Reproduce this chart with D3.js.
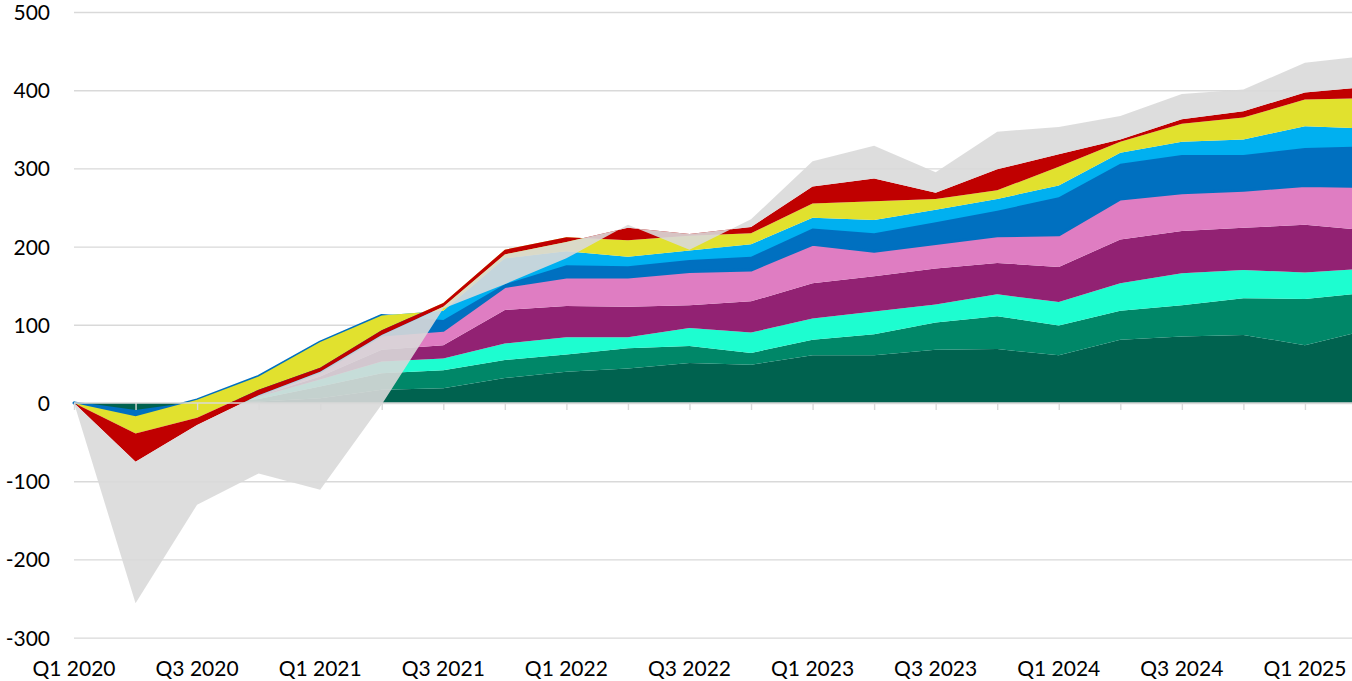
<!DOCTYPE html>
<html>
<head>
<meta charset="utf-8">
<script src="https://cdnjs.cloudflare.com/ajax/libs/d3/7.8.5/d3.min.js"></script>
<style>
  html, body { margin: 0; padding: 0; background: #fff; overflow: hidden; }
  svg { display: block; font-family: Lato, "Liberation Sans", sans-serif; }
</style>
</head>
<body>
<svg width="1352" height="681"></svg>
<script>
// quarters on the category axis (last one runs off the right edge)
const quarters = ["Q1 2020","Q2 2020","Q3 2020","Q4 2020","Q1 2021","Q2 2021","Q3 2021","Q4 2021",
  "Q1 2022","Q2 2022","Q3 2022","Q4 2022","Q1 2023","Q2 2023","Q3 2023","Q4 2023",
  "Q1 2024","Q2 2024","Q3 2024","Q4 2024","Q1 2025","Q2 2025"];
const xLabels = ["Q1 2020","Q3 2020","Q1 2021","Q3 2021","Q1 2022","Q3 2022",
  "Q1 2023","Q3 2023","Q1 2024","Q3 2024","Q1 2025"];
const yTicks = [-300, -200, -100, 0, 100, 200, 300, 400, 500];

// series values, stacked in this order (excel style: plain running sum)
const darkGreen = [0,-11,0,2,6,17,19,32,40,44,51,49,61,61,68,69,61,81,85,87,74,93];
const green     = [0,0,0,3,15,21,23,23,22,26,22,15,20,27,35,42,38,37,40,47,59,48];
const aqua      = [0,0,0,3,9,15,15,21,22,14,23,26,27,29,23,28,30,35,41,36,34,31];
const purple    = [0,0,0,1,4,15,17,43,40,39,29,40,45,45,46,40,45,56,54,54,61,49];
const pink      = [0,0,0,1,6,19,19,30,37,38,43,40,50,32,32,35,41,52,49,48,50,56];
const blue      = [0,-6,4,24,38,25,13,3,15,14,15,17,20,23,27,32,48,45,48,45,48,51];
const lightBlue = [0,0,0,0,0,0,12,33,18,12,12,16,14,17,16,15,15,14,17,20,28,23];
const yellow    = [0,-22,-23,-17,-33,-19,10,11,18,21,19,14,18,24,14,11,24,14,23,28,34,39];
const red       = [0,-36,-9,-7,-5,-6,-5,-6,-6,16,2,8,22,29,8,27,16,3,6,8,9,14];
const grey      = [0,-181,-102,-100,-151,-89,-2,-38,-21,4,-20,10,32,42,26,48,35,30,32,28,38,40];

const keys = ["darkGreen","green","aqua","purple","pink","blue","lightBlue","yellow","red","grey"];
const colors = ["#00624f","#008768","#1dfdd0","#922273","#df7dc2","#0070c0","#00b0f0","#e1e12e","#c00000","#d9d9d9"];
const values = {darkGreen, green, aqua, purple, pink, blue, lightBlue, yellow, red, grey};

const rows = quarters.map((q, i) => {
  const r = {q: q};
  keys.forEach(k => r[k] = values[k][i]);
  return r;
});

const svg = d3.select("svg");
const left = 74, right = 1352;

const x = d3.scalePoint().domain(quarters).range([74, 1366.5]);
const y = d3.scaleLinear().domain([-300, 500]).range([637.6, 12]);

// gridlines + y labels (plain hyphen for negatives, like the original)
const yAxis = d3.axisLeft(y).tickValues(yTicks).tickSize(-(right - left)).tickPadding(24)
  .tickFormat(d => String(d));
const gy = svg.append("g").attr("transform", `translate(${left},0)`).call(yAxis);
gy.select(".domain").remove();
gy.selectAll(".tick line").attr("stroke", "#d9d9d9").attr("stroke-width", 1.4);
gy.selectAll(".tick text").attr("font-size", 21).attr("fill", "#000").attr("dy", "0.36em")
  .style("font-family", "Lato, 'Liberation Sans', sans-serif");

// stacked areas
const stack = d3.stack().keys(keys).offset(d3.stackOffsetNone);
const series = stack(rows);

const area = d3.area()
  .x(d => x(d.data.q))
  .y0(d => y(d[0]))
  .y1(d => y(d[1]));

svg.append("g").selectAll("path")
  .data(series)
  .join("path")
  .attr("d", area)
  .attr("fill", (d, i) => colors[i])
  .attr("fill-opacity", d => d.key === "grey" ? 0.9 : 1)
  .attr("stroke", d => d.key === "blue" ? colors[5] : "none")
  .attr("stroke-width", 3)
  .attr("stroke-linejoin", "round");

// zero axis with ticks at each quarter
const xAxis = d3.axisBottom(x).tickValues(quarters).tickSize(7).tickFormat("");
const gx = svg.append("g").attr("transform", `translate(0,${y(0)})`).call(xAxis);
gx.select(".domain").attr("stroke", "#d9d9d9").attr("stroke-width", 1.4)
  .attr("d", `M${left},0H${right}`);
gx.selectAll(".tick line").attr("stroke", "#d9d9d9").attr("stroke-width", 1.4);

// quarter labels along the bottom
svg.append("g").selectAll("text")
  .data(xLabels)
  .join("text")
  .attr("x", d => x(d))
  .attr("y", 676)
  .attr("text-anchor", "middle")
  .attr("font-size", 21)
  .attr("fill", "#000")
  .text(d => d);
</script>
</body>
</html>
